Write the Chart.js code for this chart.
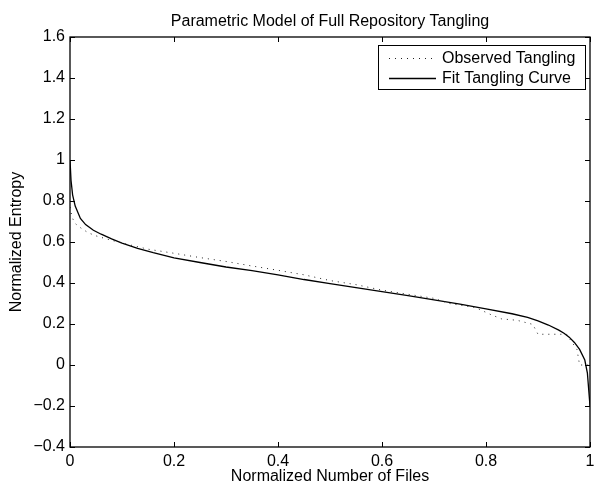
<!DOCTYPE html>
<html>
<head>
<meta charset="utf-8">
<script src="https://cdn.jsdelivr.net/npm/chart.js@4/dist/chart.umd.min.js"></script>
<style>
  body { margin: 0; background: #fff; }
  canvas { display: block; }
</style>
</head>
<body>
<canvas id="chart" width="594" height="487"></canvas>
<script>
// Data
const fitX = [0, 0.002, 0.005, 0.01, 0.02, 0.03, 0.045, 0.06, 0.08, 0.1, 0.13, 0.16, 0.2, 0.25, 0.3, 0.35, 0.4, 0.45, 0.5, 0.55, 0.6, 0.65, 0.7, 0.75, 0.8, 0.85, 0.88, 0.9, 0.92, 0.94, 0.95, 0.96, 0.97, 0.98, 0.99, 0.995, 1.0];
const fitY = [1.0, 0.9, 0.83, 0.775, 0.715, 0.685, 0.657, 0.638, 0.615, 0.595, 0.569, 0.548, 0.523, 0.5, 0.478, 0.46, 0.44, 0.417, 0.397, 0.377, 0.358, 0.338, 0.318, 0.297, 0.274, 0.25, 0.232, 0.215, 0.195, 0.17, 0.155, 0.136, 0.11, 0.076, 0.024, -0.04, -0.2];
const obsX = [0, 0.004, 0.01, 0.02, 0.035, 0.05, 0.07, 0.1, 0.15, 0.2, 0.25, 0.3, 0.35, 0.4, 0.45, 0.5, 0.55, 0.6, 0.65, 0.7, 0.73, 0.78, 0.81, 0.83, 0.86, 0.89, 0.9, 0.955, 0.975, 0.98, 1.0];
const obsY = [0.77, 0.72, 0.69, 0.67, 0.645, 0.63, 0.615, 0.595, 0.565, 0.545, 0.524, 0.505, 0.483, 0.462, 0.44, 0.412, 0.392, 0.365, 0.345, 0.325, 0.3, 0.28, 0.245, 0.225, 0.218, 0.198, 0.15, 0.15, 0.075, 0.0, 0.0];
const seriesNames = ['Observed Tangling', 'Fit Tangling Curve'];
const xTicks = [0, 0.2, 0.4, 0.6, 0.8, 1];
const yTicks = [-0.4, -0.2, 0, 0.2, 0.4, 0.6, 0.8, 1, 1.2, 1.4, 1.6];

const FONT = '"Liberation Sans", Arial, Helvetica, sans-serif';
const toPoints = (xs, ys) => xs.map((x, i) => ({ x: x, y: ys[i] }));
const fmt = v => {
  const r = Math.round(v * 10) / 10;
  return (r < 0 ? '\u2212' : '') + String(Math.abs(r));
};

// Box, inward ticks, titles and legend (MATLAB look)
const matlabFrame = {
  id: 'matlabFrame',
  afterDraw(chart) {
    const { ctx, chartArea: a, scales } = chart;
    ctx.save();
    ctx.strokeStyle = '#000';
    ctx.lineWidth = 1.3;
    ctx.strokeRect(a.left, a.top, a.right - a.left, a.bottom - a.top);

    ctx.lineWidth = 1;
    ctx.beginPath();
    xTicks.forEach(v => {
      const px = Math.round(scales.x.getPixelForValue(v)) + 0.5;
      ctx.moveTo(px, a.bottom); ctx.lineTo(px, a.bottom - 5);
      ctx.moveTo(px, a.top); ctx.lineTo(px, a.top + 5);
    });
    yTicks.forEach(v => {
      const py = Math.round(scales.y.getPixelForValue(v)) + 0.5;
      ctx.moveTo(a.left, py); ctx.lineTo(a.left + 5, py);
      ctx.moveTo(a.right, py); ctx.lineTo(a.right - 5, py);
    });
    ctx.stroke();

    // titles
    ctx.fillStyle = '#000';
    ctx.font = '16px ' + FONT;
    ctx.textAlign = 'center';
    ctx.textBaseline = 'middle';
    const cx = (a.left + a.right) / 2;
    ctx.fillText('Parametric Model of Full Repository Tangling', cx, 22);
    ctx.fillText('Normalized Number of Files', cx, 477);
    ctx.save();
    ctx.translate(17, (a.top + a.bottom) / 2);
    ctx.rotate(-Math.PI / 2);
    ctx.fillText('Normalized Entropy', 0, 0);
    ctx.restore();

    // legend
    const lx = 378, ly = 45, lw = 207, lh = 44;
    ctx.fillStyle = '#fff';
    ctx.fillRect(lx, ly, lw, lh);
    ctx.lineWidth = 1;
    ctx.strokeStyle = '#000';
    ctx.strokeRect(lx + 0.5, ly + 0.5, lw, lh);
    ctx.textAlign = 'left';
    chart.data.datasets.forEach((ds, i) => {
      const y = ly + 13 + i * 20;
      ctx.strokeStyle = ds.borderColor;
      ctx.lineWidth = ds.borderWidth;
      ctx.setLineDash(ds.borderDash || []);
      ctx.beginPath();
      ctx.moveTo(lx + 11, y + 0.5);
      ctx.lineTo(lx + 58, y + 0.5);
      ctx.stroke();
      ctx.setLineDash([]);
      ctx.fillStyle = '#000';
      ctx.fillText(ds.label, lx + 64, y + 1);
    });
    ctx.restore();
  }
};

new Chart(document.getElementById('chart'), {
  type: 'scatter',
  data: {
    datasets: [
      {
        label: seriesNames[0],
        data: toPoints(obsX, obsY),
        showLine: true,
        borderColor: '#222',
        borderWidth: 1,
        borderDash: [1, 5],
        pointRadius: 0,
        tension: 0
      },
      {
        label: seriesNames[1],
        data: toPoints(fitX, fitY),
        showLine: true,
        borderColor: '#000',
        borderWidth: 1.3,
        pointRadius: 0,
        tension: 0
      }
    ]
  },
  options: {
    responsive: false,
    animation: false,
    layout: { padding: { left: 0, top: 37, right: 4, bottom: 0 } },
    plugins: { legend: { display: false }, tooltip: { enabled: false } },
    scales: {
      x: {
        type: 'linear',
        min: 0,
        max: 1,
        afterFit: s => { s.height = 40; s.paddingLeft = 0; s.paddingRight = 0; },
        afterBuildTicks: s => { s.ticks = xTicks.map(v => ({ value: v })); },
        grid: { display: false, drawTicks: false },
        border: { display: false },
        ticks: { color: '#000', padding: 5, font: { family: FONT, size: 16 }, callback: fmt, maxRotation: 0 }
      },
      y: {
        type: 'linear',
        min: -0.4,
        max: 1.6,
        afterFit: s => { s.width = 70; s.paddingTop = 0; s.paddingBottom = 0; },
        afterBuildTicks: s => { s.ticks = yTicks.map(v => ({ value: v })); },
        grid: { display: false, drawTicks: false },
        border: { display: false },
        ticks: { color: '#000', padding: 5, font: { family: FONT, size: 16 }, callback: fmt }
      }
    }
  },
  plugins: [matlabFrame]
});
</script>
</body>
</html>
